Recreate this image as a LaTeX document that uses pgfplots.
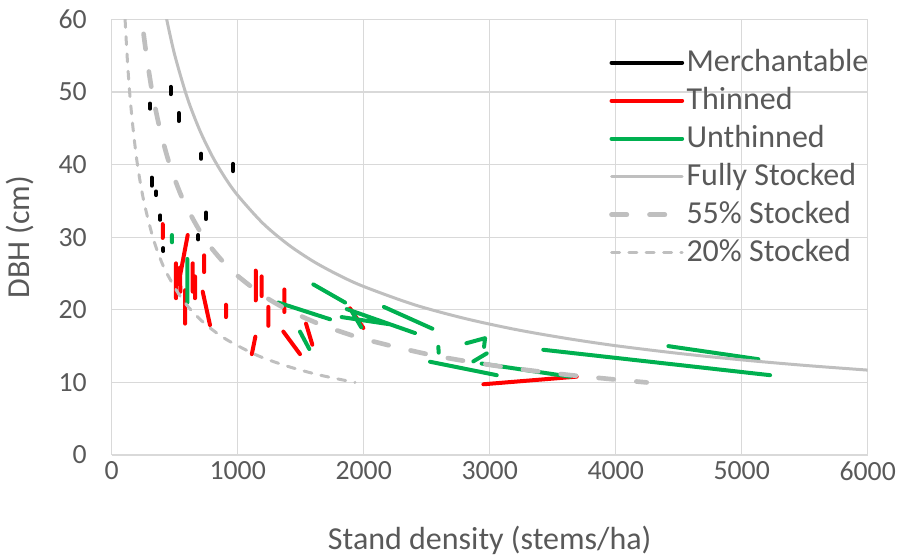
\documentclass[border=0pt]{standalone}
\usepackage{fontspec}
\setmainfont{Carlito}
\usepackage{pgfplots}
\pgfplotsset{compat=1.18}
\definecolor{txt}{RGB}{89,89,89}
\definecolor{gridc}{RGB}{217,217,217}
\definecolor{xlred}{RGB}{255,0,0}
\definecolor{xlgreen}{RGB}{0,176,80}
\definecolor{refgray}{RGB}{191,191,191}
\begin{document}
\begin{tikzpicture}
\begin{axis}[
  at={(0pt,0pt)}, anchor=south west,
  scale only axis, width=567pt, height=326.8pt,
  xmin=0, xmax=6000, ymin=0, ymax=60,
  xtick={0,1000,...,6000}, ytick={0,10,...,60},
  grid=major, major grid style={gridc, line width=0.9pt},
  axis line style={draw=none}, tick style={draw=none},
  /pgf/number format/assume math mode=true,
  /pgf/number format/1000 sep={},
  ticklabel style={font=\fontsize{20.8}{24}\selectfont, text=txt},
  xticklabel style={inner sep=0pt, yshift=-4.5pt},
  yticklabel style={inner sep=0pt, xshift=-18.5pt},
  xlabel={Stand density (stems/ha)}, ylabel={DBH (cm)},
  label style={font=\fontsize{24}{28}\selectfont, text=txt},
  xlabel style={at={(axis description cs:0.5,-0.195)}, anchor=center},
  ylabel style={at={(axis description cs:-0.1213,0.5)}, anchor=center},
  legend style={draw=none, fill=none, at={(axis description cs:0.658,0.944)}, anchor=north west,
    inner sep=0pt, outer sep=0pt, row sep=0pt, column sep=1.5pt,
    font=\fontsize{24}{28}\selectfont, text=txt,
    nodes={inner sep=0pt, text height=20.45pt, text depth=8.05pt}},
  legend cell align=left,
  legend image code/.code={\draw[#1, line cap=round] (0pt,0pt) -- (53pt,0pt);},
]
% Merchantable
\addplot[black, line width=3pt, line cap=round, unbounded coords=jump] coordinates {
(468,50.7) (468,49.7) (0,nan)
(304,48.4) (304,47.7) (0,nan)
(532,47.1) (532,46.0) (0,nan)
(709,41.5) (709,40.8) (0,nan)
(963,40.1) (963,39.1) (0,nan)
(317,38.2) (317,37.1) (0,nan)
(352,36.3) (352,35.8) (0,nan)
(386,33.0) (386,32.4) (0,nan)
(748,33.4) (748,32.5) (0,nan)
(687,30.3) (687,29.7) (0,nan)
(410,28.5) (410,28.1)
};
\addlegendentry{Merchantable}
% Thinned
\addplot[xlred, line width=3pt, line cap=round, unbounded coords=jump] coordinates {
(405,31.8) (405,29.9) (0,nan)
(603,30.3) (540,24.5) (0,nan)
(510,26.4) (510,21.6) (0,nan)
(540,25.8) (545,22.5) (0,nan)
(582,22.7) (582,18.1) (0,nan)
(643,26.4) (643,22.5) (0,nan)
(661,24.6) (661,21.6) (0,nan)
(733,27.5) (733,25.2) (0,nan)
(722,22.5) (780,17.9) (0,nan)
(907,20.7) (907,19.0) (0,nan)
(1143,25.4) (1143,21.3) (0,nan)
(1190,24.6) (1190,21.9) (0,nan)
(1243,20.4) (1243,17.8) (0,nan)
(1370,22.8) (1370,19.7) (0,nan)
(1140,16.3) (1112,13.9) (0,nan)
(1362,17.0) (1494,13.9) (0,nan)
(1542,18.1) (1592,15.2) (0,nan)
(1891,20.2) (1997,17.5) (0,nan)
(2950,9.75) (3690,10.8)
};
\addlegendentry{Thinned}
% Unthinned
\addplot[xlgreen, line width=3pt, line cap=round, line join=round, unbounded coords=jump] coordinates {
(478,30.3) (478,29.3) (0,nan)
(600,27.0) (600,21.0) (0,nan)
(1322,21.0) (1733,18.7) (0,nan)
(1600,23.5) (1852,21.0) (0,nan)
(1494,17.0) (1568,14.6) (0,nan)
(1865,20.1) (2407,16.8) (0,nan)
(1825,19.0) (2210,18.0) (0,nan)
(1905,19.8) (1980,17.6) (0,nan)
(2160,20.4) (2545,17.4) (0,nan)
(2592,14.9) (2595,14.1) (0,nan)
(2815,15.4) (2963,16.1) (2955,14.9) (0,nan)
(2870,12.9) (2976,14.0) (0,nan)
(2526,12.85) (3056,11.0) (0,nan)
(2936,12.6) (3637,10.8) (0,nan)
(3425,14.5) (5225,11.0) (0,nan)
(4418,15.0) (5132,13.2)
};
\addlegendentry{Unthinned}
% Fully stocked
\addplot[refgray, line width=2.25pt, line cap=round, smooth] coordinates {
(436,60) (500,55.09) (600,49.17) (700,44.67) (800,41.09) (900,38.18) (1000,35.76)
(1200,31.91) (1400,28.99) (1600,26.67) (1800,24.79) (2000,23.21) (2400,20.71)
(2800,18.82) (3200,17.31) (3600,16.09) (4000,15.06) (4500,14.00) (5000,13.11)
(5500,12.35) (6000,11.70)
};
\addlegendentry{Fully Stocked}
% 55% stocked
\addplot[refgray, line width=3.5pt, line cap=round, smooth, dash pattern=on 11.5pt off 17pt] coordinates {
(253,58) (276,55) (321,50) (381,45) (460,40) (570,35) (729,30) (864,27) (977,25)
(1199,22) (1397,20) (1655,18) (1999,16) (2476,14) (2788,13) (3170,12) (3645,11) (4246,10)
};
\addlegendentry{55\% Stocked}
% 20% stocked
\addplot[refgray, line width=2.25pt, line cap=round, smooth, dash pattern=on 6pt off 7pt] coordinates {
(106,60) (122,55) (142,50) (169,45) (204,40) (254,35) (326,30) (386,27) (438,25)
(538,22) (628,20) (745,18) (902,16) (1120,14) (1263,13) (1438,12) (1655,11) (1931,10)
};
\addlegendentry{20\% Stocked}
\end{axis}
\pgfresetboundingbox
\path (-83.8pt,-77.25pt) rectangle (591.2pt,341.3pt);
\end{tikzpicture}
\end{document}
